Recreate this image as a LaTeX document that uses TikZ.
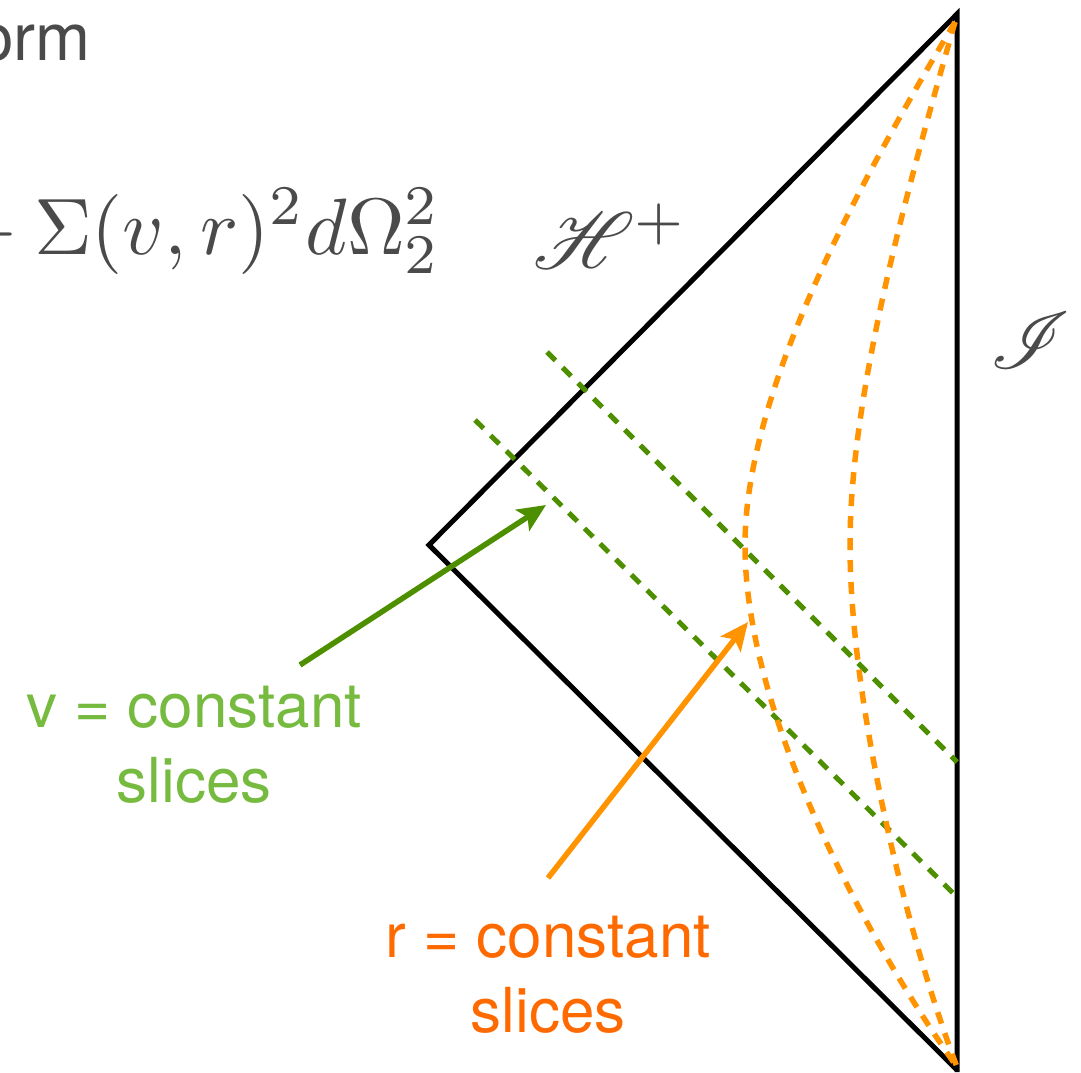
\documentclass[tikz,border=0pt]{standalone}
\usepackage{fontspec}
\setmainfont{TeX Gyre Heros}
\usepackage{mathrsfs}
\usetikzlibrary{arrows.meta}
\definecolor{lgreen}{HTML}{4E8F00}
\definecolor{tgreen}{HTML}{76BB40}
\definecolor{lorange}{HTML}{FF9300}
\definecolor{torange}{HTML}{FF6A00}
\definecolor{tgray}{HTML}{4A4A4A}
\tikzset{
  edge/.style={line width=5pt, line join=miter, black},
  vslice/.style={line width=5pt, lgreen, dash pattern=on 12pt off 10pt},
  rslice/.style={line width=5.5pt, lorange, dash pattern=on 12pt off 10pt},
  pointer/.style={line width=5.5pt, -{Stealth[length=28pt,width=25pt,inset=6pt]}},
  label/.style={inner sep=0pt, font=\fontsize{62}{75}\selectfont, align=center},
  mathlabel/.style={inner sep=0pt, tgray}
}
\begin{document}
\begin{tikzpicture}[x=1pt,y=-1pt]
\useasboundingbox (0,0) rectangle (1081,1072);
\coordinate (top) at (957,14);
\coordinate (left) at (429,545);
\coordinate (bot) at (957,1070);
\coordinate (bend) at (957,1072);
% black boundary
\draw[edge] (bot) -- (left) -- (top) -- (bend);
% v = constant slices
\coordinate (v1a) at (547,352);
\coordinate (v1b) at (957,762);
\coordinate (v2a) at (475,420);
\coordinate (v2b) at (955,895);
\draw[vslice] (v1a) -- (v1b);
\draw[vslice] (v2a) -- (v2b);
% r = constant slices
\coordinate (rtop) at (955,22);
\coordinate (rbot) at (957,1067);
\coordinate (r1m) at (745,545);
\coordinate (r2m) at (850,545);
\draw[rslice] (rtop) .. controls (870,165) and (745,385) .. (r1m)
  .. controls (745,710) and (860,930) .. (rbot);
\draw[rslice] (rtop) .. controls (910,180) and (850,390) .. (r2m)
  .. controls (850,700) and (905,930) .. (rbot);
% labels
\node[label, tgreen, anchor=base] (vlab) at (194,802) {v = constant\\slices};
\node[label, torange, anchor=base] (rlab) at (548,1032) {r = constant\\slices};
\coordinate (vtip) at (546,505);
\coordinate (vtail) at (300,665);
\coordinate (rtip) at (748,622);
\coordinate (rtail) at (548,878);
\draw[pointer, lgreen] (vtail) -- (vtip);
\draw[pointer, lorange] (rtail) -- (rtip);
% text
\node[inner sep=0pt, tgray, anchor=base east, font=\fontsize{66}{80}\selectfont] (orm) at (91,60) {orm};
\node[mathlabel, anchor=base east] (metric) at (441,254) {\scalebox{8}{${}+\Sigma(v,r)^2d\Omega_2^2$}};
\node[mathlabel, anchor=base west] (hplus) at (533,268) {\scalebox{8}{$\mathscr{H}^+$}};
\node[mathlabel, anchor=base west] (scri) at (990,368) {\scalebox{8}{$\mathscr{I}$}};
\end{tikzpicture}
\end{document}
